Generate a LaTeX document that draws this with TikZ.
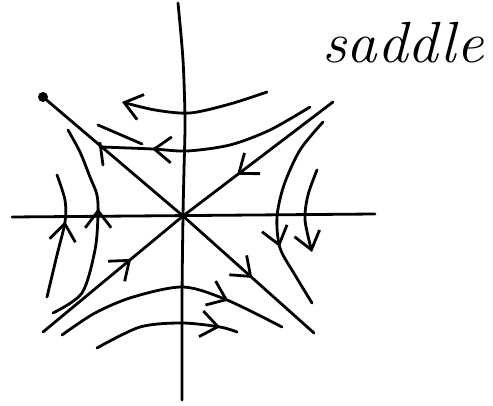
\documentclass[tikz,border=0pt]{standalone}
\usepackage{tikz}
\usetikzlibrary{arrows.meta, decorations.markings}

\tikzset{
  stroke/.style={line width=2.8pt, line cap=round, line join=round},
  endbarb/.style={-{Straight Barb[length=17pt, width=26pt]}},
  midbarb/.style={postaction={decorate}, decoration={markings,
      mark=at position #1 with {\arrow{Straight Barb[length=17pt, width=26pt]}}}}
}

\begin{document}
\begin{tikzpicture}[x=1pt, y=-1pt]
  \useasboundingbox (0,0) rectangle (493,406);

  %% axes
  \draw[stroke] (12,217) -- (375,214);
  \draw[stroke] plot[smooth] coordinates {(178,3) (183,60) (185,120) (184,170) (183,216) (182,300) (182,400)};

  %% unstable diagonal, with the dot
  \fill (43,97) circle (5pt);
  \draw[stroke, midbarb=0.77] (43,97) -- (183,216) -- (314,333);
  \draw[stroke] (98,125) -- (142,144);
  \draw[stroke] (100,143) -- (103,165);

  %% stable diagonal (both halves run into the origin)
  \draw[stroke, midbarb=0.64] (333,102) -- (183,216);
  \draw[stroke, midbarb=0.63] (43,332) -- (183,216);

  %% upper orbits
  \draw[stroke, endbarb] plot[smooth] coordinates {(267,92) (230,104) (190,113) (155,110) (122,102)};
  \draw[stroke, midbarb=0.77] plot[smooth] coordinates {(310,107) (270,130) (230,145) (187,151) (153,149) (102,147)};

  %% right orbits
  \draw[stroke, midbarb=0.68] plot[smooth] coordinates {(323,122) (300,150) (284,185) (277,217) (280,248) (295,275) (312,303)};
  \draw[stroke, endbarb] plot[smooth] coordinates {(317,170) (308,195) (305,220) (312,252)};

  %% left orbits
  \draw[stroke, midbarb=0.62] plot[smooth] coordinates {(47,297) (57,255) (65,222) (65,200) (57,175)};
  \draw[stroke, midbarb=0.59] plot[smooth] coordinates {(53,313) (82,293) (95,250) (98,215) (97,195) (90,177) (80,152) (68,130)};

  %% lower orbits
  \draw[stroke, midbarb=0.75] plot[smooth] coordinates {(62,335) (95,313) (133,297) (183,287) (227,300) (282,327)};
  \draw[stroke, midbarb=0.88] plot[smooth] coordinates {(97,348) (140,327) (182,323) (220,327) (237,332)};

  %% label
  \node[anchor=base west, xscale=1.05, inner sep=0pt, font=\fontsize{58}{64}\selectfont\itshape] (lbl) at (322,63) {saddle};

\end{tikzpicture}
\end{document}
